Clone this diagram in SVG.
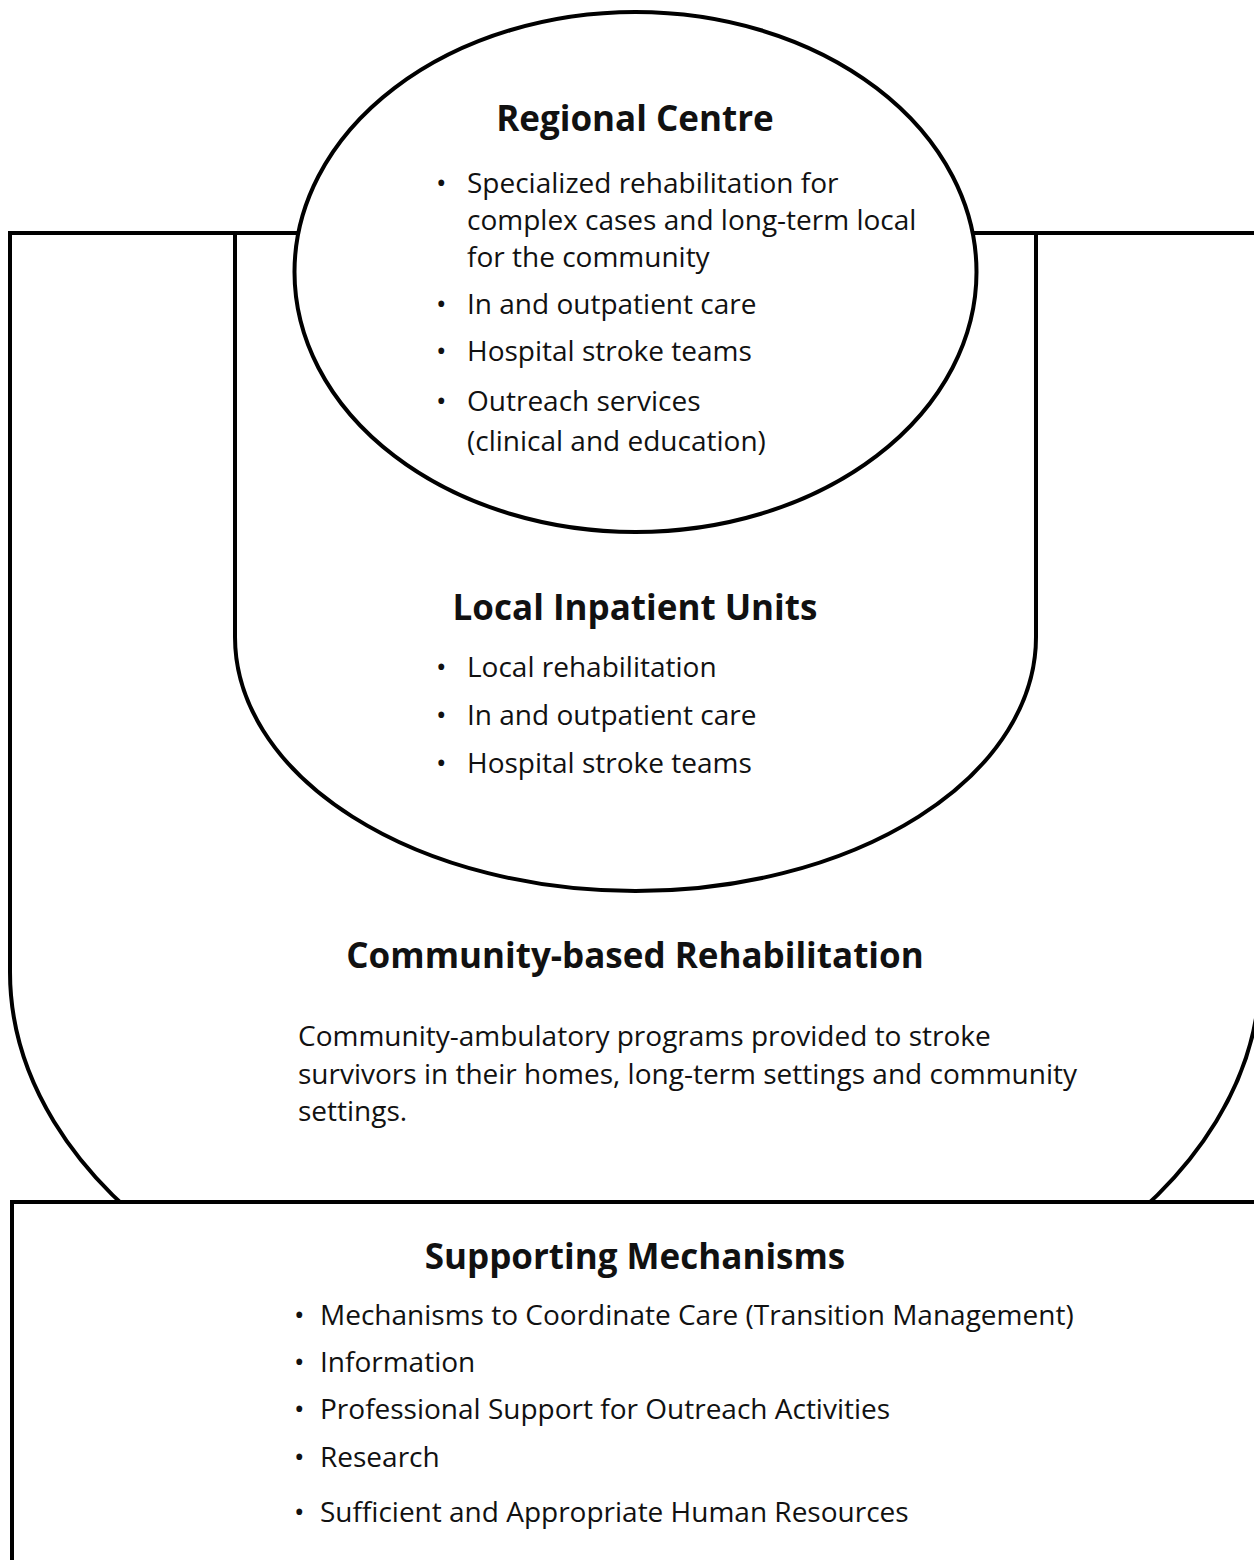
<svg xmlns="http://www.w3.org/2000/svg" width="1254" height="1560" viewBox="0 0 1254 1560">
<style>
.ln{fill:none;stroke:#000;stroke-width:4}
.wf{fill:#fff;stroke:#000;stroke-width:4}
.t{font-family:"Open Sans","Noto Sans","DejaVu Sans",sans-serif;font-size:28px;fill:#111}
.h{font-family:"Open Sans","Noto Sans","DejaVu Sans",sans-serif;font-size:35px;font-weight:bold;fill:#111;text-anchor:middle}
</style>
<rect width="1254" height="1560" fill="#fff"/>
<g id="community">
<path class="ln" d="M 10 233 V 972 A 625 406 0 0 0 1260 972 V 233 Z"/>
<text class="h" x="635" y="968">Community-based Rehabilitation</text>
<text class="t" x="298" y="1046">Community-ambulatory programs provided to stroke</text>
<text class="t" x="298" y="1084">survivors in their homes, long-term settings and community</text>
<text class="t" x="298" y="1121">settings.</text>
</g>
<g id="local">
<path class="ln" d="M 235 233 V 637 A 400.5 254 0 0 0 1036 637 V 233"/>
<text class="h" x="635" y="620">Local Inpatient Units</text>
<text class="t" x="436" y="677">•</text><text class="t" x="467" y="677">Local rehabilitation</text>
<text class="t" x="436" y="725">•</text><text class="t" x="467" y="725">In and outpatient care</text>
<text class="t" x="436" y="773">•</text><text class="t" x="467" y="773">Hospital stroke teams</text>
</g>
<g id="regional">
<ellipse class="wf" cx="635.5" cy="272" rx="341" ry="260"/>
<text class="h" x="635" y="131">Regional Centre</text>
<text class="t" x="436" y="193">•</text><text class="t" x="467" y="193">Specialized rehabilitation for</text>
<text class="t" x="467" y="230">complex cases and long-term local</text>
<text class="t" x="467" y="267">for the community</text>
<text class="t" x="436" y="314">•</text><text class="t" x="467" y="314">In and outpatient care</text>
<text class="t" x="436" y="361">•</text><text class="t" x="467" y="361">Hospital stroke teams</text>
<text class="t" x="436" y="411">•</text><text class="t" x="467" y="411">Outreach services</text>
<text class="t" x="467" y="451">(clinical and education)</text>
</g>
<g id="supporting">
<rect class="wf" x="12" y="1202" width="1260" height="400"/>
<text class="h" x="635" y="1269">Supporting Mechanisms</text>
<text class="t" x="294" y="1325">•</text><text class="t" x="320" y="1325">Mechanisms to Coordinate Care (Transition Management)</text>
<text class="t" x="294" y="1372">•</text><text class="t" x="320" y="1372">Information</text>
<text class="t" x="294" y="1419">•</text><text class="t" x="320" y="1419">Professional Support for Outreach Activities</text>
<text class="t" x="294" y="1467">•</text><text class="t" x="320" y="1467">Research</text>
<text class="t" x="294" y="1522">•</text><text class="t" x="320" y="1522">Sufficient and Appropriate Human Resources</text>
</g>
<g id="connectors"></g>
</svg>
